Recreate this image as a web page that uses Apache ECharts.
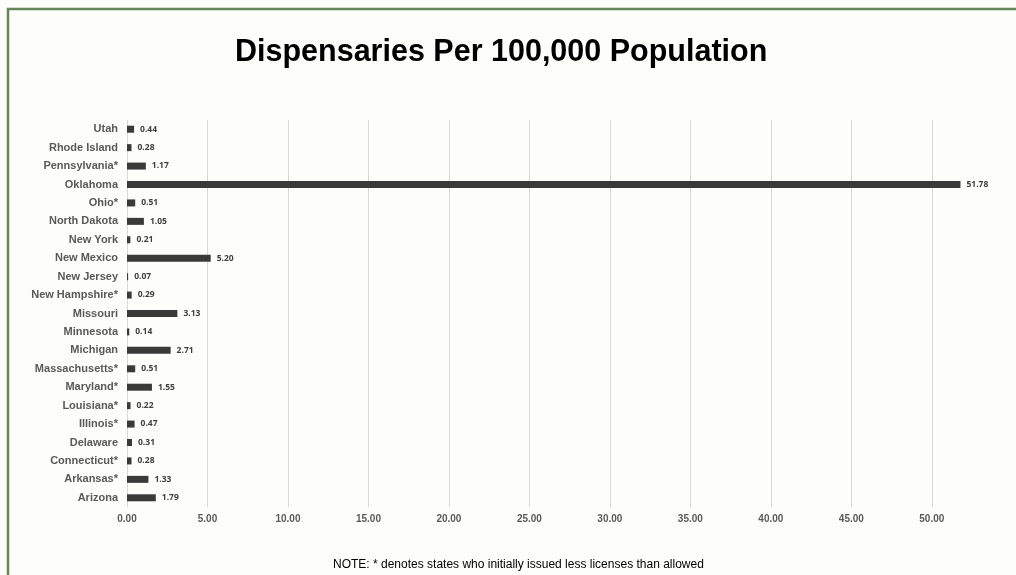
<!DOCTYPE html>
<html>
<head>
<meta charset="utf-8">
<script src="https://cdn.jsdelivr.net/npm/echarts@6/dist/echarts.min.js"></script>
<style>
html,body{margin:0;padding:0;background:#fdfdf9;}
#chart{width:1016px;height:575px;}
</style>
</head>
<body>
<div id="chart"></div>
<script>
const titleText = 'Dispensaries Per 100,000 Population';
const noteText = 'NOTE: * denotes states who initially issued less licenses than allowed';
const states = ['Arizona','Arkansas*','Connecticut*','Delaware','Illinois*','Louisiana*','Maryland*','Massachusetts*','Michigan','Minnesota','Missouri','New Hampshire*','New Jersey','New Mexico','New York','North Dakota','Ohio*','Oklahoma','Pennsylvania*','Rhode Island','Utah'];
const perCapita = [1.79,1.33,0.28,0.31,0.47,0.22,1.55,0.51,2.71,0.14,3.13,0.29,0.07,5.20,0.21,1.05,0.51,51.78,1.17,0.28,0.44];

const chart = echarts.init(document.getElementById('chart'));
chart.setOption({
  backgroundColor: '#fdfdf9',
  animation: false,
  title: {
    text: titleText,
    left: 230,
    top: 32,
    textStyle: {fontFamily: 'Liberation Sans', fontWeight: 'bold', fontSize: 30.5, color: '#000'}
  },
  graphic: [
    {type: 'rect', shape: {x: 8, y: 9, width: 1100, height: 700}, style: {fill: 'none', stroke: '#67875a', lineWidth: 2.5}, silent: true},
    {type: 'text', left: 333, top: 559, style: {text: noteText, fontFamily: 'Liberation Sans', fontSize: 12, fill: '#000'}}
  ],
  grid: {left: 127, right: 52, top: 120, bottom: 68},
  xAxis: {
    type: 'value', min: 0, max: 52, interval: 5,
    axisLine: {show: false}, axisTick: {show: false},
    splitLine: {show: true, showMaxLine: false, lineStyle: {color: '#d9d9d9', width: 1}},
    axisLabel: {showMaxLabel: false, margin: 7, formatter: v => v.toFixed(2), fontFamily: 'Liberation Sans', fontWeight: 'bold', fontSize: 10, color: '#595959'}
  },
  yAxis: {
    type: 'category', data: states,
    axisLine: {show: false}, axisTick: {show: false},
    axisLabel: {margin: 9, fontFamily: 'Liberation Sans', fontWeight: 'bold', fontSize: 11, color: '#595959'}
  },
  series: [{
    type: 'bar', data: perCapita, barWidth: 7,
    itemStyle: {color: '#3a3a3a'},
    label: {show: true, position: 'right', distance: 6, formatter: p => p.value.toFixed(2), fontFamily: 'Open Sans', fontWeight: 'bold', fontSize: 8.5, color: '#404040'}
  }]
});
</script>
</body>
</html>
